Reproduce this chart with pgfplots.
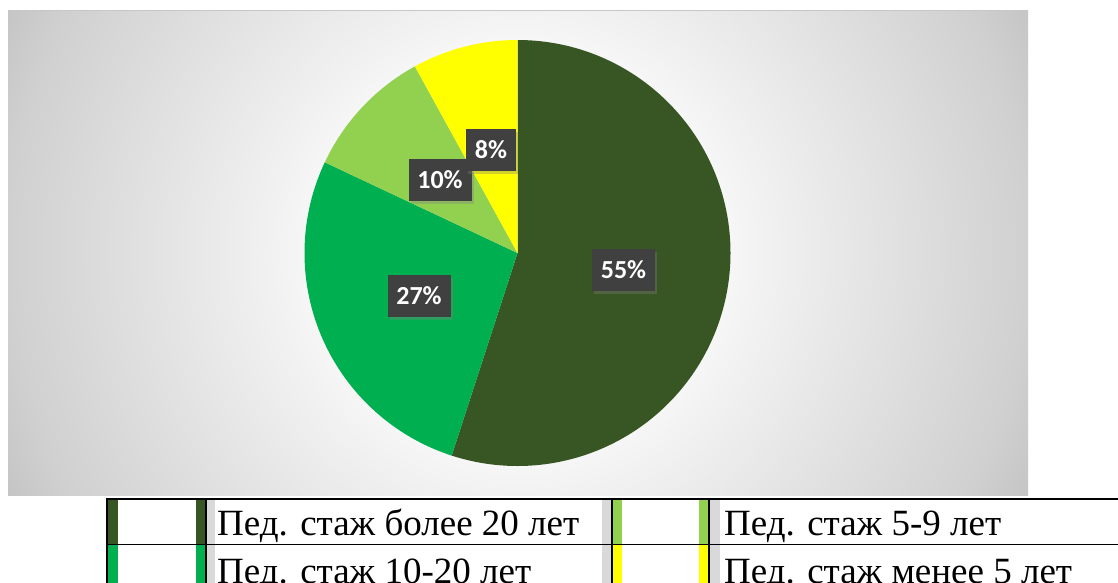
\documentclass[border=0pt]{standalone}
\usepackage{fontspec}
\setmainfont{Liberation Serif}
\newfontfamily\labelfont{Carlito}
\usepackage{pgfplots}
\pgfplotsset{compat=1.18}
\usetikzlibrary{shadows}
\definecolor{sDark}{HTML}{375623}
\definecolor{sGreen}{HTML}{00B050}
\definecolor{sLight}{HTML}{92D050}
\definecolor{sYellow}{HTML}{FFFF00}
\definecolor{boxGray}{HTML}{404040}
\definecolor{barGray}{HTML}{D9D9D9}
\definecolor{bgA}{HTML}{F2F2F2}
\definecolor{bgB}{HTML}{D0D0D0}
\definecolor{bgOuter}{HTML}{C2C2C2}
% 25bp = circle edge (580pt)
\pgfdeclareradialshading{bgshade}{\pgfpoint{0bp}{0bp}}{color(0bp)=(white); color(6.5bp)=(white); color(10.4bp)=(bgA); color(22bp)=(bgB); color(25bp)=(bgOuter); color(50bp)=(bgOuter)}

\begin{document}
\begin{tikzpicture}
\useasboundingbox (0,0) rectangle (1118pt,582pt);
\begin{axis}[at={(0,0)}, anchor=south west, scale only axis,
  width=1118pt, height=582pt,
  xmin=0, xmax=1118, ymin=0, ymax=582, y dir=reverse,
  hide axis, clip=false]
% chart area background
\pgfplotsextra{
  \begin{scope}
    \clip (axis cs:8,10) rectangle (axis cs:1028,495);
    \shade[shading=bgshade] (axis cs:518,252) circle (580pt);
  \end{scope}
  \draw[color=black!22, line width=0.8pt] (axis cs:8,10.5) -- (axis cs:1028,10.5);
}
% pie slices, clockwise from 12 o'clock
\pgfplotsextra{
  \gdef\cum{0}
  \foreach \v/\c in {55/sDark, 27/sGreen, 10/sLight, 8/sYellow}{
    \pgfmathsetmacro\sa{90-3.6*\cum}
    \pgfmathsetmacro\ea{90-3.6*(\cum+\v)}
    \fill[\c] (axis cs:517.5,253) -- ++(\sa:213pt)
      arc[start angle=\sa, end angle=\ea, radius=213pt] -- cycle;
    \pgfmathsetmacro\nc{\cum+\v}
    \xdef\cum{\nc}
  }
}
% data labels
\pgfplotsextra{
  \tikzset{lbl/.style={fill=boxGray, text=white, inner sep=0pt,
    minimum height=42pt, font=\labelfont\bfseries\fontsize{26}{28}\selectfont,
    drop shadow={shadow xshift=2pt, shadow yshift=-3pt, opacity=0.35}}}
  \node[lbl, minimum width=63pt] at (axis cs:623.5,270) {55\%};
  \node[lbl, minimum width=63pt] at (axis cs:419,296) {27\%};
  \node[lbl, minimum width=63pt] at (axis cs:440,180) {10\%};
  \node[lbl, minimum width=50pt] at (axis cs:491,150) {8\%};
}
% legend table
\pgfplotsextra{
  \fill[sDark]   (axis cs:107,499) rectangle (axis cs:118,544);
  \fill[sDark]   (axis cs:195.5,499) rectangle (axis cs:206,544);
  \fill[sGreen]  (axis cs:107,544) rectangle (axis cs:118,590);
  \fill[sGreen]  (axis cs:195.5,544) rectangle (axis cs:206,590);
  \fill[barGray] (axis cs:206,499) rectangle (axis cs:215,590);
  \fill[barGray] (axis cs:602,499) rectangle (axis cs:612,590);
  \fill[sLight]  (axis cs:612,499) rectangle (axis cs:622,544);
  \fill[sLight]  (axis cs:699,499) rectangle (axis cs:709,544);
  \fill[sYellow] (axis cs:612,544) rectangle (axis cs:622,590);
  \fill[sYellow] (axis cs:699,544) rectangle (axis cs:709,590);
  \fill[barGray] (axis cs:709,499) rectangle (axis cs:720,590);
  \draw[black, line width=1.5pt] (axis cs:106.3,499) -- (axis cs:1118,499);
  \draw[black, line width=1.5pt] (axis cs:107,544.3) -- (axis cs:1118,544.3);
  \foreach \xx in {107,206,612,709}{
    \draw[black, line width=1.5pt] (axis cs:\xx,499) -- (axis cs:\xx,590);
  }
  \tikzset{leg/.style={anchor=base west, inner sep=0pt, font=\fontsize{37}{40}\selectfont}}
  \node[leg] at (axis cs:217,535.7) {Пед. стаж более 20 лет};
  \node[leg] at (axis cs:217,583) {Пед. стаж 10-20 лет};
  \node[leg] at (axis cs:724,535.7) {Пед. стаж 5-9 лет};
  \node[leg] at (axis cs:724,583) {Пед. стаж менее 5 лет};
}
\end{axis}
\end{tikzpicture}
\end{document}
